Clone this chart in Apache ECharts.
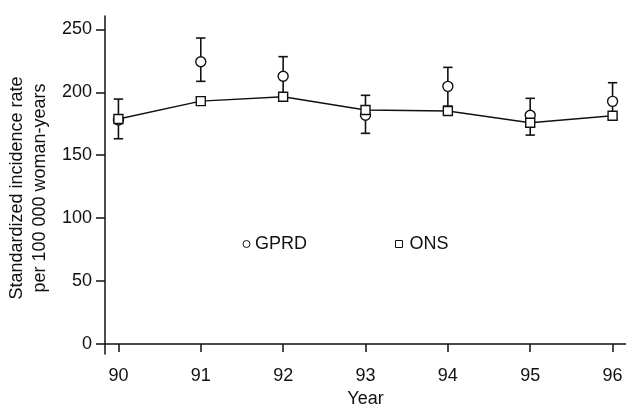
<!DOCTYPE html>
<html>
<head>
<meta charset="utf-8">
<script src="https://cdn.jsdelivr.net/npm/echarts@6/dist/echarts.min.js"></script>
<style>
  html, body { margin: 0; padding: 0; background: #fff; }
  #chart { width: 626px; height: 406px; }
</style>
</head>
<body>
<div id="chart"></div>
<script>
const years = [90, 91, 92, 93, 94, 95, 96]
const yTicks = [0, 50, 100, 150, 200, 250]

// GPRD rate with 95% CI
const gprd = [178, 224.3, 212.7, 181.7, 204.7, 181.7, 192.8]
const gprdLow = [163.1, 208.7, 197, 167.4, 189, 166, 179]
const gprdHigh = [194.6, 243.1, 228.3, 197.6, 219.8, 195.2, 207.6]

// ONS rate
const ons = [178.8, 193, 196.5, 185.9, 185.1, 175.8, 181.4]

const font = 'Liberation Sans, Arial, sans-serif'
const ink = '#111'

const chart = echarts.init(document.getElementById('chart'))

const errorData = years.map((y, i) => [y, gprdLow[i], gprdHigh[i]])

const renderErrorBar = (params, api) => {
  const x = api.value(0)
  const lo = api.coord([x, api.value(1)])
  const hi = api.coord([x, api.value(2)])
  const cap = 4.7
  const style = { stroke: ink, lineWidth: 1.6, fill: null }
  return {
    type: 'group',
    children: [
      { type: 'line', shape: { x1: lo[0], y1: lo[1], x2: hi[0], y2: hi[1] }, style },
      { type: 'line', shape: { x1: hi[0] - cap, y1: hi[1], x2: hi[0] + cap, y2: hi[1] }, style },
      { type: 'line', shape: { x1: lo[0] - cap, y1: lo[1], x2: lo[0] + cap, y2: lo[1] }, style }
    ]
  }
}

chart.setOption({
  animation: false,
  textStyle: { fontFamily: font, color: ink },
  grid: { left: 105, right: 0, top: 16, bottom: 52, outerBoundsMode: 'none', containLabel: false },
  legend: [
    {
      left: 237.5,
      top: 230,
      selectedMode: false,
      itemWidth: 7,
      itemHeight: 7,
      textStyle: { fontSize: 18, color: ink, fontFamily: font },
      data: [{ name: 'GPRD', icon: 'circle', itemStyle: { color: '#fff', borderColor: ink, borderWidth: 1 } }]
    },
    {
      left: 390,
      top: 230,
      selectedMode: false,
      itemWidth: 7,
      itemHeight: 7,
      textStyle: { fontSize: 18, color: ink, fontFamily: font, padding: [0, 0, 0, 2] },
      data: [{ name: 'ONS', icon: 'rect', itemStyle: { color: '#fff', borderColor: ink, borderWidth: 1 } }]
    }
  ],
  xAxis: {
    type: 'value',
    min: 89.837,
    max: 96.163,
    name: 'Year',
    nameLocation: 'middle',
    nameGap: 36,
    nameTextStyle: { fontSize: 18, color: ink, fontFamily: font },
    axisLine: { lineStyle: { color: ink, width: 1.5 } },
    axisTick: { length: 8, lineStyle: { color: ink, width: 1.5 }, customValues: years },
    axisLabel: { fontSize: 18, color: ink, margin: 13, customValues: years },
    splitLine: { show: false }
  },
  yAxis: {
    type: 'value',
    min: -7.9,
    max: 260.6,
    name: 'Standardized incidence rate\nper 100 000 woman-years',
    nameLocation: 'middle',
    nameGap: 51,
    nameTextStyle: { fontSize: 18, color: ink, fontFamily: font, lineHeight: 23, padding: [0, 6, 0, 0] },
    axisLine: { show: true, lineStyle: { color: ink, width: 1.5 } },
    axisTick: { show: true, length: 9, lineStyle: { color: ink, width: 1.5 }, customValues: yTicks },
    axisLabel: { fontSize: 18, color: ink, margin: 13, customValues: yTicks },
    splitLine: { show: false }
  },
  series: [
    {
      name: 'GPRD CI',
      type: 'custom',
      renderItem: renderErrorBar,
      data: errorData,
      z: 1
    },
    {
      name: 'GPRD',
      type: 'scatter',
      symbol: 'circle',
      symbolSize: 10,
      itemStyle: { color: '#fff', borderColor: ink, borderWidth: 1.4, opacity: 1 },
      data: years.map((y, i) => [y, gprd[i]]),
      z: 2
    },
    {
      name: 'ONS',
      type: 'line',
      symbol: 'rect',
      symbolSize: 9,
      showAllSymbol: true,
      lineStyle: { color: ink, width: 1.4 },
      itemStyle: { color: '#fff', borderColor: ink, borderWidth: 1.4 },
      data: years.map((y, i) => [y, ons[i]]),
      z: 3
    }
  ]
})
</script>
</body>
</html>
